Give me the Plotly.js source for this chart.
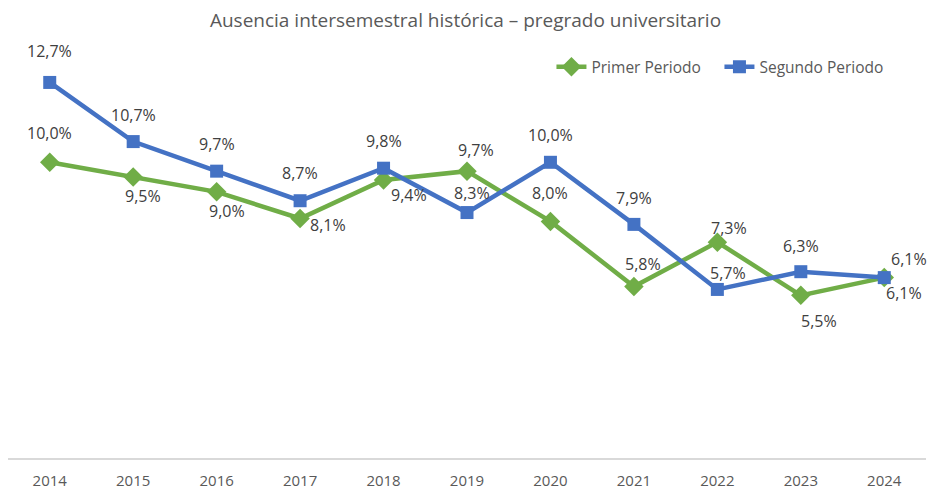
<!DOCTYPE html>
<html>
<head>
<meta charset="utf-8">
<script src="https://cdn.plot.ly/plotly-3.0.1.min.js"></script>
<style>html,body{margin:0;padding:0;background:#fff;}#chart{width:931px;height:489px;}</style>
</head>
<body>
<div id="chart"></div>
<script>
const years = ['2014','2015','2016','2017','2018','2019','2020','2021','2022','2023','2024'];
const primer = [10.0, 9.5, 9.0, 8.1, 9.4, 9.7, 8.0, 5.8, 7.3, 5.5, 6.1];
const segundo = [12.7, 10.7, 9.7, 8.7, 9.8, 8.3, 10.0, 7.9, 5.7, 6.3, 6.1];
const seriesNames = ['Primer Periodo', 'Segundo Periodo'];

// label offsets (pixels) relative to each marker
const primerShift = [[0,29],[10,-19],[10,-19],[28,-7],[25,-15],[9,21],[0,28],[9,22],[12,14],[18,-26],[20,-15]];
const segundoShift = [[0,31],[0,27],[0,27],[0,28],[0,27],[5,20],[0,27],[0,26],[11,16],[0,26],[25,19]];

const fmt = v => v.toFixed(1).replace('.', ',') + '%';

const green = '#70AD47', blue = '#4472C4';

const traces = [
  {x: years, y: primer, name: seriesNames[0], type: 'scatter', mode: 'lines+markers', legend: 'legend',
   line: {color: green, width: 4.5}, marker: {symbol: 'diamond', size: 15, color: green}},
  {x: years, y: segundo, name: seriesNames[1], type: 'scatter', mode: 'lines+markers', legend: 'legend2',
   line: {color: blue, width: 4.5}, marker: {symbol: 'square', size: 13, color: blue}}
];

const annotations = [];
[[primer, primerShift], [segundo, segundoShift]].forEach(([vals, shifts]) => {
  vals.forEach((v, i) => {
    annotations.push({x: i, y: v, xref: 'x', yref: 'y', text: fmt(v), showarrow: false,
      xshift: shifts[i][0], yshift: shifts[i][1], font: {size: 16, color: '#404040', family: 'Open Sans, sans-serif'}});
  });
});

const legendBase = {orientation: 'h', yanchor: 'middle', y: 0.944, xanchor: 'left',
  font: {size: 15.5, color: '#595959'}, bgcolor: 'rgba(0,0,0,0)', borderwidth: 0};

const layout = {
  width: 931, height: 489,
  margin: {l: 8, r: 5, t: 44, b: 31},
  paper_bgcolor: '#fff', plot_bgcolor: '#fff',
  font: {family: 'Open Sans, sans-serif', color: '#595959'},
  title: {text: 'Ausencia intersemestral histórica – pregrado universitario', x: 0.5, xanchor: 'center',
          y: 0.958, yanchor: 'middle', font: {size: 19, color: '#595959', family: 'Open Sans, sans-serif'}},
  xaxis: {type: 'category', range: [-0.5, years.length - 0.5], showline: true, linecolor: '#d9d9d9', linewidth: 2, ticks: '',
          ticklabelstandoff: 8,
          showgrid: false, zeroline: false, tickfont: {size: 15, color: '#595959'}, fixedrange: true},
  yaxis: {range: [0, 14], showticklabels: false, showgrid: false, zeroline: false, showline: false, fixedrange: true},
  showlegend: true,
  legend: Object.assign({}, legendBase, {x: 0.592}),
  legend2: Object.assign({}, legendBase, {x: 0.775}),
  annotations: annotations
};

Plotly.newPlot('chart', traces, layout, {displayModeBar: false, staticPlot: true});
</script>
</body>
</html>
